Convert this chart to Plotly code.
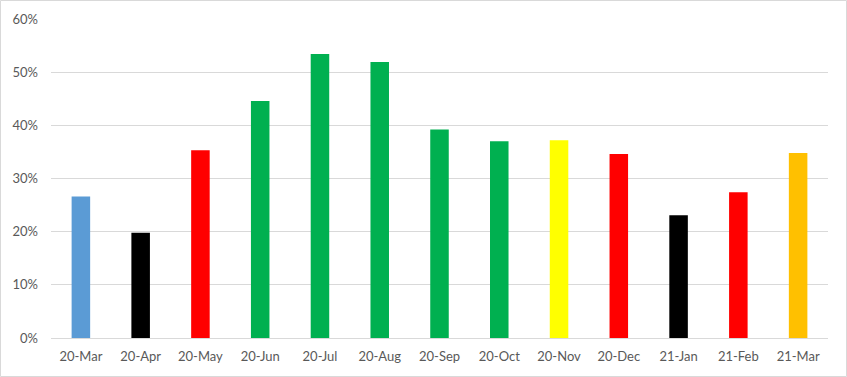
import plotly.graph_objects as go

categories = ["20-Mar", "20-Apr", "20-May", "20-Jun", "20-Jul", "20-Aug", "20-Sep",
              "20-Oct", "20-Nov", "20-Dec", "21-Jan", "21-Feb", "21-Mar"]
values = [0.266, 0.198, 0.353, 0.446, 0.534, 0.519, 0.392,
          0.370, 0.372, 0.346, 0.231, 0.274, 0.348]
colors = ["#5B9BD5", "#000000", "#FF0000", "#00B050", "#00B050", "#00B050", "#00B050",
          "#00B050", "#FFFF00", "#FF0000", "#000000", "#FF0000", "#FFC000"]
y_ticks = [0, 0.1, 0.2, 0.3, 0.4, 0.5, 0.6]
y_labels = ["0%", "10%", "20%", "30%", "40%", "50%", "60%"]

W, H = 847, 377
ml, mr, mt, mb = 51, 19, 19, 39

fig = go.Figure(go.Bar(x=categories, y=values, marker=dict(color=colors, line=dict(width=0)),
                       width=0.31, hoverinfo="skip"))

pw = W - ml - mr
ph = H - mt - mb
fig.add_shape(type="rect", xref="paper", yref="paper",
              x0=(-ml + 0.5) / pw, x1=(pw + mr - 0.5) / pw,
              y0=(-mb + 0.5) / ph, y1=(ph + mt - 0.5) / ph,
              line=dict(color="#D9D9D9", width=1), layer="below")

font = dict(family="Lato, Open Sans, sans-serif", size=13, color="#595959")
fig.update_layout(
    width=W, height=H,
    margin=dict(l=ml, r=mr, t=mt, b=mb),
    paper_bgcolor="white", plot_bgcolor="white",
    showlegend=False,
    font=font,
    xaxis=dict(showgrid=False, showline=True, linecolor="#D9D9D9", linewidth=1,
               ticks="", tickfont=font, ticklabelstandoff=6),
    yaxis=dict(range=[0, 0.6], tickvals=y_ticks, ticktext=y_labels, showgrid=True,
               gridcolor="#D9D9D9", gridwidth=1, zeroline=False, showline=False,
               ticks="", tickfont=font, ticklabelstandoff=12),
)

fig.write_html("out.html", config={"displayModeBar": False},
               post_script="document.body.style.margin='0';")
